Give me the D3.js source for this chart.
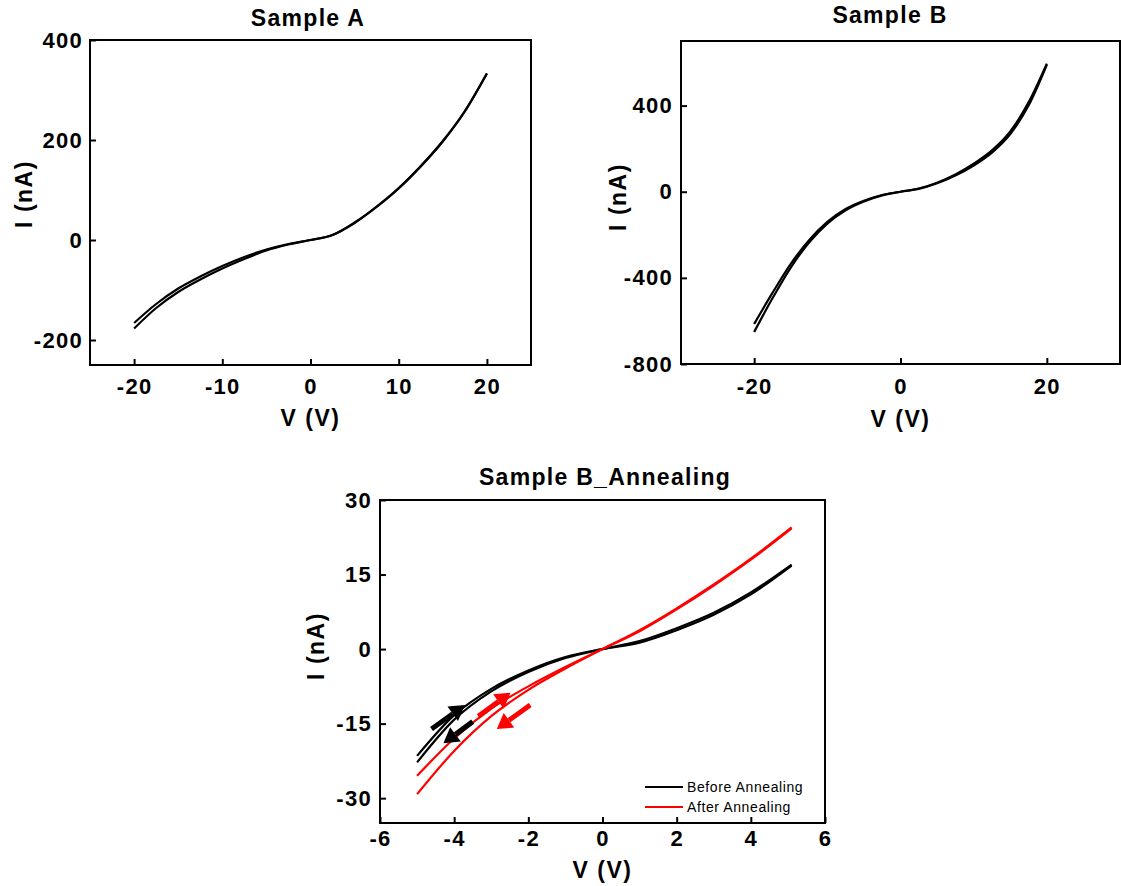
<!DOCTYPE html>
<html>
<head>
<meta charset="utf-8">
<script src="https://cdn.jsdelivr.net/npm/d3@7"></script>
<style>
  body { margin: 0; background: #fff; }
  text { font-family: "Liberation Sans", Arial, sans-serif; }
</style>
</head>
<body>
<div id="chart"></div>
<script>
// Sample A: I-V sweep, forward/backward branches differ on the negative side
var voltsA = [-20, -17.5, -15, -12.5, -10, -7.5, -5, -2.5, 0, 2.5, 5, 7.5, 10, 12.5, 15, 17.5, 20];
var sampleA_up   = [-166, -128, -97, -73, -52, -34, -19, -8, 0, 10, 35, 67, 104, 148, 198, 258, 333];
var sampleA_down = [-177, -136, -104, -79, -57, -38, -21, -9, 0, 10, 34, 66, 103, 147, 197, 257, 333];

// Sample B
var voltsB = [-20, -17.5, -15, -12.5, -10, -7.5, -5, -2.5, 0, 2.5, 5, 7.5, 10, 12.5, 15, 17.5, 20];
var sampleB_up   = [-614, -470, -335, -225, -140, -80, -42, -15, 0, 15, 42, 80, 130, 192, 280, 415, 595];
var sampleB_down = [-651, -495, -352, -236, -148, -86, -45, -17, 0, 13, 39, 75, 122, 182, 268, 400, 590];

// Sample B annealing comparison
var voltsC = [-5, -4, -3, -2, -1, 0, 1, 2, 3, 4, 5.1];
var before_1 = [-21.5, -13.3, -8.0, -4.3, -1.6, 0, 1.3, 3.8, 6.9, 11.0, 16.8];
var before_2 = [-22.8, -14.2, -8.5, -4.6, -1.8, 0, 1.6, 4.2, 7.3, 11.4, 17.0];
var after_1  = [-25.5, -18.0, -12.0, -7.5, -3.6, 0, 3.6, 8.0, 12.8, 18.0, 24.3];
var after_2  = [-29.2, -20.5, -13.5, -8.2, -3.9, 0, 3.8, 8.2, 13.0, 18.2, 24.5];

// sweep direction arrows, in data units [V0, I0, V1, I1]
var arrowsBefore = [[-4.61, -16.1, -3.71, -11.25], [-3.50, -14.6, -4.29, -18.96]];
var arrowsAfter  = [[-3.35, -13.5, -2.48, -8.78], [-1.95, -11.25, -2.85, -16.1]];

var legendNames = ["Before Annealing", "After Annealing"];

var svg = d3.select("#chart").append("svg")
  .attr("width", 1121)
  .attr("height", 886);

function zip(xs, ys) {
  return xs.map(function(v, i) { return [v, ys[i]]; });
}

function drawPanel(cfg) {
  var x = d3.scaleLinear().domain(cfg.xDomain).range([cfg.left, cfg.right]);
  var y = d3.scaleLinear().domain(cfg.yDomain).range([cfg.bottom, cfg.top]);
  var g = svg.append("g");

  var line = d3.line()
    .x(function(d) { return x(d[0]); })
    .y(function(d) { return y(d[1]); })
    .curve(d3.curveMonotoneX);

  cfg.series.forEach(function(s) {
    g.append("path")
      .attr("d", line(zip(s.x, s.y)))
      .attr("fill", "none")
      .attr("stroke", s.color)
      .attr("stroke-width", 2.2);
  });

  // ticks point inward, plain hyphen for negatives
  var fmt = function(d) { return String(d); };
  var xa = g.append("g")
    .attr("transform", "translate(0," + cfg.bottom + ")")
    .call(d3.axisBottom(x).tickValues(cfg.xTicks).tickFormat(fmt).tickSizeInner(-6).tickSizeOuter(0).tickPadding(cfg.xPad));
  var ya = g.append("g")
    .attr("transform", "translate(" + cfg.left + ",0)")
    .call(d3.axisLeft(y).tickValues(cfg.yTicks).tickFormat(fmt).tickSizeInner(-6).tickSizeOuter(0).tickPadding(cfg.yPad));

  [xa, ya].forEach(function(a) {
    a.select(".domain").remove();
    a.selectAll(".tick line").attr("stroke", "#000").attr("stroke-width", 2);
    a.selectAll(".tick text")
      .attr("fill", "#000")
      .style("font-family", "'Liberation Sans', Arial, sans-serif")
      .style("font-size", "22px")
      .style("font-weight", "bold")
      .style("letter-spacing", "1.3px");
  });

  g.append("rect")
    .attr("x", cfg.left).attr("y", cfg.top)
    .attr("width", cfg.right - cfg.left)
    .attr("height", cfg.bottom - cfg.top)
    .attr("fill", "none")
    .attr("stroke", "#000")
    .attr("stroke-width", 2);

  g.append("text")
    .attr("x", cfg.titleX).attr("y", cfg.titleY)
    .attr("text-anchor", "middle")
    .style("font-size", "23px").style("font-weight", "bold").style("letter-spacing", "1.3px")
    .text(cfg.title);

  g.append("text")
    .attr("x", (cfg.left + cfg.right) / 2).attr("y", cfg.bottom + cfg.xLabelOff)
    .attr("text-anchor", "middle")
    .style("font-size", "23px").style("font-weight", "bold").style("letter-spacing", "1.5px")
    .text("V (V)");

  g.append("text")
    .attr("transform", "translate(" + cfg.yLabelX + "," + cfg.yLabelY + ") rotate(-90)")
    .attr("text-anchor", "middle")
    .style("font-size", "23px").style("font-weight", "bold").style("letter-spacing", "1.5px")
    .text("I (nA)");

  return { g: g, x: x, y: y };
}

drawPanel({
  left: 90, right: 531, top: 40, bottom: 365,
  xDomain: [-25, 25], yDomain: [-250, 400],
  xTicks: [-20, -10, 0, 10, 20], yTicks: [-200, 0, 200, 400],
  xPad: 13, yPad: 7,
  title: "Sample A", titleX: 308, titleY: 26,
  xLabelOff: 61, yLabelX: 32, yLabelY: 194,
  series: [
    { x: voltsA, y: sampleA_up, color: "#000" },
    { x: voltsA, y: sampleA_down, color: "#000" }
  ]
});

drawPanel({
  left: 681, right: 1120, top: 41, bottom: 364,
  xDomain: [-30, 30], yDomain: [-800, 700],
  xTicks: [-20, 0, 20], yTicks: [-800, -400, 0, 400],
  xPad: 14, yPad: 8,
  title: "Sample B", titleX: 890, titleY: 23,
  xLabelOff: 63, yLabelX: 626, yLabelY: 197,
  series: [
    { x: voltsB, y: sampleB_up, color: "#000" },
    { x: voltsB, y: sampleB_down, color: "#000" }
  ]
});

var pc = drawPanel({
  left: 380, right: 825, top: 500, bottom: 823,
  xDomain: [-6, 6], yDomain: [-35, 30],
  xTicks: [-6, -4, -2, 0, 2, 4, 6], yTicks: [-30, -15, 0, 15, 30],
  xPad: 7, yPad: 8,
  title: "Sample B_Annealing", titleX: 605, titleY: 485,
  xLabelOff: 55, yLabelX: 324, yLabelY: 646,
  series: [
    { x: voltsC, y: before_1, color: "#000" },
    { x: voltsC, y: before_2, color: "#000" },
    { x: voltsC, y: after_1, color: "#ff0000" },
    { x: voltsC, y: after_2, color: "#ff0000" }
  ]
});

function drawArrow(g, x, y, a, color) {
  var x0 = x(a[0]), y0 = y(a[1]), x1 = x(a[2]), y1 = y(a[3]);
  var ang = Math.atan2(y1 - y0, x1 - x0);
  var headLen = 15, headW = 9;
  var bx = x1 - headLen * Math.cos(ang), by = y1 - headLen * Math.sin(ang);
  g.append("line")
    .attr("x1", x0).attr("y1", y0).attr("x2", bx).attr("y2", by)
    .attr("stroke", color).attr("stroke-width", 5);
  var px = -Math.sin(ang) * headW, py = Math.cos(ang) * headW;
  g.append("path")
    .attr("d", "M" + x1 + "," + y1 + "L" + (bx + px) + "," + (by + py) + "L" + (bx - px) + "," + (by - py) + "Z")
    .attr("fill", color);
}

arrowsBefore.forEach(function(a) { drawArrow(pc.g, pc.x, pc.y, a, "#000"); });
arrowsAfter.forEach(function(a) { drawArrow(pc.g, pc.x, pc.y, a, "#ff0000"); });

// legend
var legendColors = ["#000", "#ff0000"];
var lg = pc.g.append("g").attr("transform", "translate(645,787)");
legendNames.forEach(function(name, i) {
  lg.append("line")
    .attr("x1", 0).attr("x2", 38)
    .attr("y1", i * 20).attr("y2", i * 20)
    .attr("stroke", legendColors[i]).attr("stroke-width", 2);
  lg.append("text")
    .attr("x", 42).attr("y", i * 20 + 5)
    .style("font-size", "14px").style("letter-spacing", "0.6px")
    .text(name);
});
</script>
</body>
</html>
